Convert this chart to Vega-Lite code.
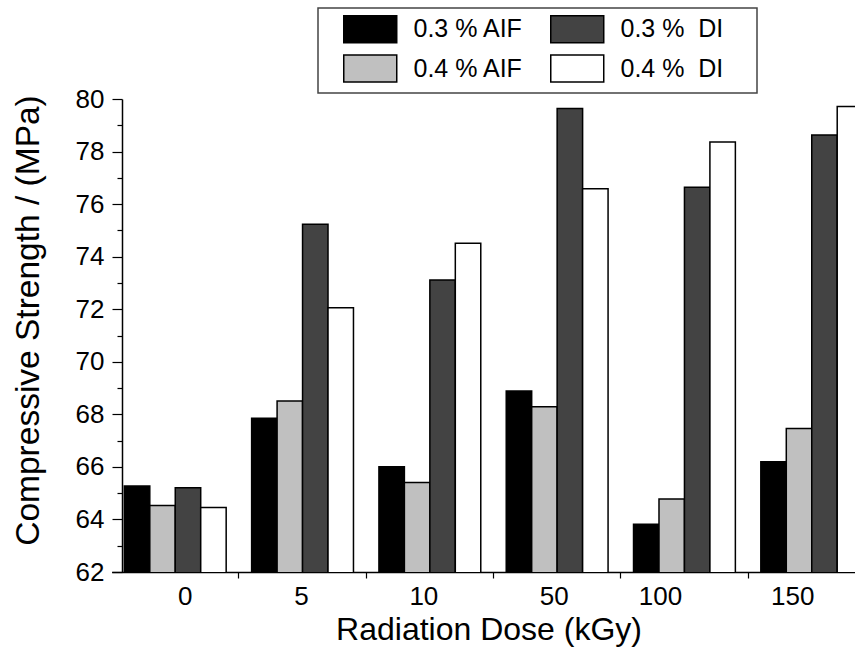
{
  "$schema": "https://vega.github.io/schema/vega-lite/v6.json",
  "width": 733,
  "height": 473,
  "autosize": {"type": "none"},
  "padding": {"left": 122, "top": 99, "right": 0, "bottom": 76},
  "config": {"view": {"stroke": null}, "font": "Liberation Sans"},
  "data": {
    "values": [
      {"dose": "0", "series": "0.3 % AIF", "strength": 65.27},
      {"dose": "0", "series": "0.4 % AIF", "strength": 64.53},
      {"dose": "0", "series": "0.3 %  DI", "strength": 65.21},
      {"dose": "0", "series": "0.4 %  DI", "strength": 64.45},
      {"dose": "5", "series": "0.3 % AIF", "strength": 67.85},
      {"dose": "5", "series": "0.4 % AIF", "strength": 68.51},
      {"dose": "5", "series": "0.3 %  DI", "strength": 75.23},
      {"dose": "5", "series": "0.4 %  DI", "strength": 72.06},
      {"dose": "10", "series": "0.3 % AIF", "strength": 66.01},
      {"dose": "10", "series": "0.4 % AIF", "strength": 65.41},
      {"dose": "10", "series": "0.3 %  DI", "strength": 73.11},
      {"dose": "10", "series": "0.4 %  DI", "strength": 74.51},
      {"dose": "50", "series": "0.3 % AIF", "strength": 68.89},
      {"dose": "50", "series": "0.4 % AIF", "strength": 68.29},
      {"dose": "50", "series": "0.3 %  DI", "strength": 79.64},
      {"dose": "50", "series": "0.4 %  DI", "strength": 76.58},
      {"dose": "100", "series": "0.3 % AIF", "strength": 63.82},
      {"dose": "100", "series": "0.4 % AIF", "strength": 64.78},
      {"dose": "100", "series": "0.3 %  DI", "strength": 76.64},
      {"dose": "100", "series": "0.4 %  DI", "strength": 78.36},
      {"dose": "150", "series": "0.3 % AIF", "strength": 66.2},
      {"dose": "150", "series": "0.4 % AIF", "strength": 67.46},
      {"dose": "150", "series": "0.3 %  DI", "strength": 78.63},
      {"dose": "150", "series": "0.4 %  DI", "strength": 79.71}
    ]
  },
  "mark": {"type": "bar", "clip": true, "stroke": "black", "strokeWidth": 1.5},
  "encoding": {
    "x": {
      "field": "dose",
      "type": "nominal",
      "sort": ["0", "5", "10", "50", "100", "150"],
      "scale": {"range": [-10.4, 753.4], "paddingInner": 0.2, "paddingOuter": 0.1},
      "axis": {
        "title": "Radiation Dose (kGy)",
        "labelAngle": 0,
        "bandPosition": 1.125,
        "tickSize": 6,
        "tickWidth": 1.2,
        "tickColor": "black",
        "domainColor": "black",
        "domainWidth": 1.5,
        "labelFontSize": 26,
        "labelColor": "black",
        "labelPadding": 5,
        "labelOffset": {
          "condition": [
            {"test": "datum.value === '0'", "value": 10},
            {"test": "datum.value === '5'", "value": -1},
            {"test": "datum.value === '10'", "value": -6},
            {"test": "datum.value === '50'", "value": -3},
            {"test": "datum.value === '100'", "value": -24}
          ],
          "value": -19
        },
        "titleFontSize": 32,
        "titleFontWeight": "normal",
        "titleColor": "black",
        "titlePadding": 5,
        "titleX": 366.5,
        "titleAlign": "center",
        "grid": false
      }
    },
    "xOffset": {
      "field": "series",
      "sort": ["0.3 % AIF", "0.4 % AIF", "0.3 %  DI", "0.4 %  DI"],
      "scale": {"paddingInner": 0, "paddingOuter": 0}
    },
    "y": {
      "field": "strength",
      "type": "quantitative",
      "scale": {"domain": [62, 80], "zero": false, "nice": false},
      "axis": {
        "title": "Compressive Strength / (MPa)",
        "values": [62, 63, 64, 65, 66, 67, 68, 69, 70, 71, 72, 73, 74, 75, 76, 77, 78, 79, 80],
        "labelExpr": "datum.value % 2 === 0 ? datum.label : ''",
        "tickSize": {"condition": {"test": "datum.value % 2 === 0", "value": 10}, "value": 5},
        "tickColor": "black",
        "tickWidth": 1.2,
        "domainColor": "black",
        "domainWidth": 1.5,
        "labelFontSize": 26,
        "labelColor": "black",
        "labelPadding": 8,
        "grid": false,
        "titleFontSize": 33.5,
        "titleFontWeight": "normal",
        "titleColor": "black",
        "titleX": -77,
        "titleY": 221,
        "titleAlign": "center",
        "titleBaseline": "bottom",
        "titleAngle": -90
      }
    },
    "color": {
      "field": "series",
      "type": "nominal",
      "scale": {
        "domain": ["0.3 % AIF", "0.4 % AIF", "0.3 %  DI", "0.4 %  DI"],
        "range": ["#000000", "#c0c0c0", "#434343", "#ffffff"]
      },
      "legend": {
        "orient": "none",
        "legendX": 196,
        "legendY": -91,
        "columns": 2,
        "title": "|",
        "titleColor": "white",
        "titleOrient": "right",
        "titleFontSize": 25,
        "titleFontWeight": "normal",
        "titlePadding": 20,
        "symbolType": "M-2,-1.02H2V1.02H-2Z",
        "symbolSize": 702,
        "symbolStrokeColor": "black",
        "symbolOpacity": 1,
        "labelFontSize": 25,
        "labelColor": "black",
        "labelOffset": 29.25,
        "labelExpr": "replace(datum.label, '  ', ' \u00a0')",
        "rowPadding": 5.5,
        "columnPadding": 8,
        "padding": 7,
        "symbolOffset": 31.25,
        "strokeColor": "#444444",
        "fillColor": "white",
        "encode": {
          "symbols": {"update": {"strokeWidth": {"value": 1.5}}},
          "legend": {"update": {"strokeWidth": {"value": 1.5}}}
        }
      }
    }
  }
}
